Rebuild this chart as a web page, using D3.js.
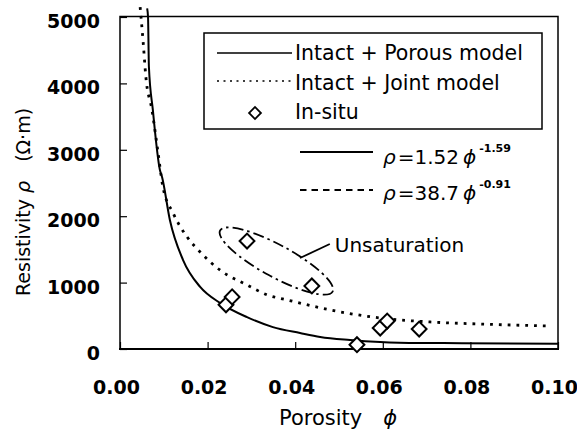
<!DOCTYPE html>
<html><head><meta charset="utf-8">
<script src="https://cdn.jsdelivr.net/npm/d3@7"></script>
<style>
html,body{margin:0;padding:0;background:#fff;}
svg{display:block;}
text{font-family:"DejaVu Sans",sans-serif;fill:#000;}
</style></head>
<body>
<svg id="chart" width="577" height="429"></svg>
<script>
// ---- data ----
const xTicks = [0, 0.02, 0.04, 0.06, 0.08, 0.10];
const xTickLabels = ["0.00", "0.02", "0.04", "0.06", "0.08", "0.10"];
const yTicks = [0, 1000, 2000, 3000, 4000, 5000];
const yTickLabels = ["0", "1000", "2000", "3000", "4000", "5000"];

// Intact + Porous model (solid)
const porousPhi = [0.0062, 0.0064, 0.0066, 0.0075, 0.0091, 0.0096, 0.0114, 0.0144, 0.0183, 0.0228, 0.029, 0.0349, 0.0411, 0.0457, 0.0525, 0.0594, 0.0685, 0.078, 0.1];
const porousRho = [5130, 5000, 4250, 3600, 2700, 2590, 1940, 1340, 935, 695, 480, 330, 240, 180, 135, 105, 90, 88, 80];

// Intact + Joint model (dotted)
const jointPhi = [0.0046, 0.0048, 0.0053, 0.0059, 0.0073, 0.0087, 0.0098, 0.0121, 0.0153, 0.0183, 0.0228, 0.029, 0.0336, 0.0381, 0.0479, 0.0594, 0.0708, 0.0822, 0.0982];
const jointRho = [5150, 5000, 4610, 4100, 3600, 2950, 2440, 2050, 1690, 1460, 1190, 965, 815, 740, 590, 467, 407, 376, 346];

// In-situ (diamonds)
const insituPhi = [0.0242, 0.0256, 0.029, 0.0438, 0.0541, 0.0594, 0.061, 0.0683];
const insituRho = [665, 785, 1625, 950, 65, 315, 420, 300];

// Unsaturation annotation (data units)
const ellipseCenter = [0.0357, 1325];
const leaderFrom = [0.0411, 1370];
const leaderTo = [0.0479, 1581];

const legendLabels = ["Intact + Porous model", "Intact + Joint model", "In-situ"];

// ---- chart ----
const svg = d3.select("#chart");
const x = d3.scaleLinear().domain([0, 0.1]).range([120, 558]);
const y = d3.scaleLinear().domain([0, 5000]).range([349, 17]);

// frame
svg.append("rect").attr("x", 120).attr("y", 16.5).attr("width", 438).attr("height", 332.5)
  .attr("fill", "none").attr("stroke", "#000").attr("stroke-width", 1.5);
svg.append("line").attr("x1", 119).attr("x2", 559).attr("y1", 349).attr("y2", 349)
  .attr("stroke", "#000").attr("stroke-width", 2.2);

// axes
const xAxis = svg.append("g").attr("transform", "translate(0,349)")
  .call(d3.axisBottom(x).tickValues(xTicks).tickFormat((d, i) => xTickLabels[i]).tickSizeInner(-7).tickSizeOuter(0).tickPadding(32));
xAxis.select(".domain").remove();
xAxis.selectAll("line").attr("stroke", "#000").attr("stroke-width", 1.2);
xAxis.selectAll("text").attr("font-family", "DejaVu Sans").attr("font-weight", "bold").attr("font-size", 19).attr("dx", -4);

const yAxis = svg.append("g").attr("transform", "translate(120,0)")
  .call(d3.axisLeft(y).tickValues(yTicks).tickFormat((d, i) => yTickLabels[i]).tickSizeInner(-7).tickSizeOuter(0).tickPadding(20));
yAxis.select(".domain").remove();
yAxis.selectAll("line").attr("stroke", "#000").attr("stroke-width", 1.2);
yAxis.selectAll("text").attr("font-family", "DejaVu Sans").attr("font-weight", "bold").attr("font-size", 19).attr("dy", "0.55em");

// axis titles
const xt = svg.append("text").attr("x", 279).attr("y", 425).attr("font-size", 21).text("Porosity\u2003");
xt.append("tspan").attr("font-style", "italic").text("\u03D5");
const yt = svg.append("text").attr("transform", "translate(30,296) rotate(-90)").attr("font-size", 19);
yt.append("tspan").text("Resistivity ");
yt.append("tspan").attr("font-style", "italic").text("\u03C1");
yt.append("tspan").text("\u2003(\u03A9\u00B7m)");

// curves
const line = d3.line().x(d => x(d[0])).y(d => y(d[1])).curve(d3.curveMonotoneX);
svg.append("path").datum(porousPhi.map((p, i) => [p, porousRho[i]]))
  .attr("d", line).attr("fill", "none").attr("stroke", "#000").attr("stroke-width", 2);
svg.append("path").datum(jointPhi.map((p, i) => [p, jointRho[i]]))
  .attr("d", line).attr("fill", "none").attr("stroke", "#000").attr("stroke-width", 2.8)
  .attr("stroke-dasharray", "2.8,6");

// ellipse annotation
svg.append("ellipse").attr("cx", 0).attr("cy", 0).attr("rx", 64).attr("ry", 16)
  .attr("transform", `translate(${x(ellipseCenter[0])},${y(ellipseCenter[1])}) rotate(28.5)`)
  .attr("fill", "none").attr("stroke", "#000").attr("stroke-width", 1.8)
  .attr("stroke-dasharray", "11,4,2.5,4");
svg.append("line").attr("x1", x(leaderFrom[0])).attr("y1", y(leaderFrom[1]))
  .attr("x2", x(leaderTo[0])).attr("y2", y(leaderTo[1]))
  .attr("stroke", "#000").attr("stroke-width", 1.8);
svg.append("text").attr("x", x(leaderTo[0]) + 5).attr("y", y(leaderTo[1]) + 8)
  .attr("font-size", 20).text("Unsaturation");

// diamonds
const diamond = d3.symbol().type(d3.symbolSquare).size(110);
svg.selectAll(".insitu").data(insituPhi.map((p, i) => [p, insituRho[i]])).enter()
  .append("path").attr("class", "insitu").attr("d", diamond)
  .attr("transform", d => `translate(${x(d[0])},${y(d[1])}) rotate(45)`)
  .attr("fill", "#fff").attr("stroke", "#000").attr("stroke-width", 2);

// legend
const lg = svg.append("g");
lg.append("rect").attr("x", 204).attr("y", 33).attr("width", 338).attr("height", 96)
  .attr("fill", "#fff").attr("stroke", "#000").attr("stroke-width", 1.5);
lg.append("line").attr("x1", 217).attr("x2", 292).attr("y1", 53).attr("y2", 53)
  .attr("stroke", "#000").attr("stroke-width", 1.5);
lg.append("line").attr("x1", 217).attr("x2", 292).attr("y1", 81).attr("y2", 81)
  .attr("stroke", "#000").attr("stroke-width", 1.6).attr("stroke-dasharray", "2,4.5");
lg.append("path").attr("d", d3.symbol().type(d3.symbolSquare).size(70))
  .attr("transform", "translate(255,113) rotate(45)")
  .attr("fill", "#fff").attr("stroke", "#000").attr("stroke-width", 1.8);
lg.selectAll(".lt").data(legendLabels).enter().append("text").attr("class", "lt")
  .attr("x", 295).attr("y", (d, i) => 60 + i * 29.5).attr("font-size", 20.5).text(d => d);

// equations
lg.append("line").attr("x1", 300).attr("x2", 373).attr("y1", 152).attr("y2", 152)
  .attr("stroke", "#000").attr("stroke-width", 2);
lg.append("line").attr("x1", 300).attr("x2", 373).attr("y1", 190).attr("y2", 190)
  .attr("stroke", "#000").attr("stroke-width", 1.8).attr("stroke-dasharray", "6.5,5");
const eqs = [["1.52", "-1.59", 164], ["38.7", "-0.91", 200]];
eqs.forEach(e => {
  const t = lg.append("text").attr("x", 383).attr("y", e[2]).attr("font-size", 20);
  t.append("tspan").attr("font-style", "italic").text("\u03C1");
  t.append("tspan").attr("dx", 2).text("=" + e[0]);
  t.append("tspan").attr("dx", 4).attr("font-style", "italic").text("\u03D5");
  t.append("tspan").attr("dx", 3).attr("dy", -12).attr("font-size", 11).attr("font-weight", "bold").text(e[1]);
});
</script>
</body></html>
